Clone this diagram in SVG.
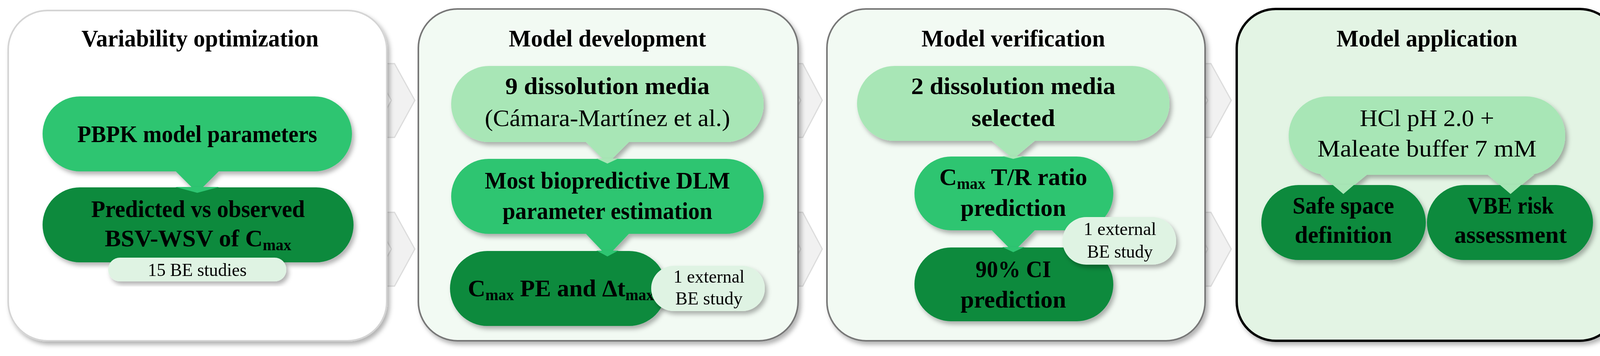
<svg xmlns="http://www.w3.org/2000/svg" width="4171" height="912" viewBox="0 0 4171 912">
<defs>
<filter id="sh" x="-10%" y="-10%" width="125%" height="130%"><feDropShadow dx="6" dy="8" stdDeviation="6" flood-color="#000" flood-opacity="0.3"/></filter>
</defs>
<style>
text{font-family:"Liberation Serif","Times New Roman",serif;font-weight:bold;text-anchor:middle;fill:#000}
.t{font-size:62px}
.b{font-size:62px}
.r{font-weight:normal}
.s{font-size:46px;font-weight:normal}
.light{fill:#a8e6b6}
.mid{fill:#2ec571}
.dark{fill:#078a3c}
.note{fill:#dff3e3}
.chev{fill:#f1f1f1;stroke:#dcdcdc;stroke-width:3}
</style>
<g id="connectors">
<polygon class="chev" points="950,163 1010,163 1062,257 1010,352 950,352 1002,257"/>
<polygon class="chev" points="950,544 1010,544 1062,638 1010,733 950,733 1002,638"/>
<polygon class="chev" points="2000,163 2055,163 2105,257 2055,352 2000,352 2050,257"/>
<polygon class="chev" points="2000,544 2055,544 2105,638 2055,733 2000,733 2050,638"/>
<polygon class="chev" points="3040,163 3100,163 3152,257 3100,352 3040,352 3092,257"/>
<polygon class="chev" points="3040,544 3100,544 3152,638 3100,733 3040,733 3092,638"/>
</g>
<g id="panel1">
<rect x="21" y="27" width="969" height="846" rx="100" fill="#fff" stroke="#d4d4d4" stroke-width="4" filter="url(#sh)"/>
<text class="t" x="512" y="119" textLength="607" lengthAdjust="spacingAndGlyphs">Variability optimization</text>
</g>
<g id="n-pbpk" filter="url(#sh)">
<rect class="mid" x="109" y="247" width="792" height="192" rx="96"/>
<polygon class="mid" points="449,438 561,438 505,494"/>
<text class="b" x="505" y="364" textLength="614" lengthAdjust="spacingAndGlyphs">PBPK model parameters</text>
</g>
<g id="n-predicted" filter="url(#sh)">
<rect class="dark" x="109" y="480" width="796" height="192" rx="96"/>
<polygon class="mid" points="449,479 561,479 505,494"/>
<text class="b" x="507" y="556" textLength="547" lengthAdjust="spacingAndGlyphs">Predicted vs observed</text>
<text class="b" x="507" y="631">BSV-WSV of C<tspan font-size="40" dy="10">max</tspan></text>
</g>
<g id="n-15be" filter="url(#sh)">
<rect class="note" x="277" y="660" width="456" height="61" rx="30"/>
<text class="s" x="505" y="707" textLength="253" lengthAdjust="spacingAndGlyphs">15 BE studies</text>
</g>

<g id="panel2">
<rect x="1071" y="23" width="972" height="850" rx="100" fill="#f2faf3" stroke="#777" stroke-width="4" filter="url(#sh)"/>
<text class="t" x="1555" y="119" textLength="505" lengthAdjust="spacingAndGlyphs">Model development</text>
</g>
<g id="n-9media" filter="url(#sh)">
<rect class="light" x="1155" y="169" width="800" height="195" rx="97"/>
<polygon class="light" points="1499,363 1611,363 1555,419"/>
<text class="b" x="1555" y="241" textLength="523" lengthAdjust="spacingAndGlyphs">9 dissolution media</text>
<text class="b r" x="1555" y="323" textLength="628" lengthAdjust="spacingAndGlyphs">(Cámara-Martínez et al.)</text>
</g>
<g id="n-biopred" filter="url(#sh)">
<rect class="mid" x="1155" y="407" width="800" height="192" rx="96"/>
<polygon class="light" points="1527,406 1583,406 1555,419"/>
<polygon class="mid" points="1499,598 1611,598 1555,657"/>
<text class="b" x="1555" y="483" textLength="628" lengthAdjust="spacingAndGlyphs">Most biopredictive DLM</text>
<text class="b" x="1555" y="561" textLength="537" lengthAdjust="spacingAndGlyphs">parameter estimation</text>
</g>
<g id="n-cmaxpe" filter="url(#sh)">
<rect class="dark" x="1152" y="643" width="554" height="192" rx="96"/>
<polygon class="mid" points="1527,642 1583,642 1555,657"/>
<text class="b" x="1436" y="759">C<tspan font-size="40" dy="10">max</tspan><tspan dy="-10"> PE and Δt</tspan><tspan font-size="40" dy="10">max</tspan></text>
</g>
<g id="n-ext1" filter="url(#sh)">
<rect class="note" x="1667" y="681" width="291" height="116" rx="58"/>
<text class="s" x="1815" y="724" textLength="182" lengthAdjust="spacingAndGlyphs">1 external</text>
<text class="s" x="1815" y="780" textLength="172" lengthAdjust="spacingAndGlyphs">BE study</text>
</g>

<g id="panel3">
<rect x="2117" y="23" width="968" height="850" rx="100" fill="#f2faf3" stroke="#777" stroke-width="4" filter="url(#sh)"/>
<text class="t" x="2594" y="119" textLength="470" lengthAdjust="spacingAndGlyphs">Model verification</text>
</g>
<g id="n-2media" filter="url(#sh)">
<rect class="light" x="2194" y="169" width="800" height="192" rx="96"/>
<polygon class="light" points="2538,360 2650,360 2594,407"/>
<text class="b" x="2594" y="241" textLength="523" lengthAdjust="spacingAndGlyphs">2 dissolution media</text>
<text class="b" x="2594" y="323" textLength="214" lengthAdjust="spacingAndGlyphs">selected</text>
</g>
<g id="n-tr" filter="url(#sh)">
<rect class="mid" x="2341" y="401" width="509" height="189" rx="94"/>
<polygon class="light" points="2566,400 2622,400 2594,407"/>
<polygon class="mid" points="2538,589 2650,589 2594,646"/>
<text class="b" x="2594" y="474">C<tspan font-size="40" dy="10">max</tspan><tspan dy="-10"> T/R ratio</tspan></text>
<text class="b" x="2594" y="553" textLength="270" lengthAdjust="spacingAndGlyphs">prediction</text>
</g>
<g id="n-ci" filter="url(#sh)">
<rect class="dark" x="2341" y="634" width="509" height="189" rx="94"/>
<polygon class="mid" points="2566,633 2622,633 2594,646"/>
<text class="b" x="2594" y="710" textLength="193" lengthAdjust="spacingAndGlyphs">90% CI</text>
<text class="b" x="2594" y="788" textLength="270" lengthAdjust="spacingAndGlyphs">prediction</text>
</g>
<g id="n-ext2" filter="url(#sh)">
<rect class="note" x="2720" y="556" width="291" height="122" rx="61"/>
<text class="s" x="2867" y="602" textLength="186" lengthAdjust="spacingAndGlyphs">1 external</text>
<text class="s" x="2867" y="660" textLength="168" lengthAdjust="spacingAndGlyphs">BE study</text>
</g>

<g id="panel4">
<rect x="3166" y="23" width="978" height="850" rx="100" fill="#e3f4e4" stroke="#000" stroke-width="6" filter="url(#sh)"/>
<text class="t" x="3653" y="119" textLength="463" lengthAdjust="spacingAndGlyphs">Model application</text>
</g>
<g id="n-hcl" filter="url(#sh)">
<rect class="light" x="3299" y="247" width="708" height="201" rx="100"/>
<polygon class="light" points="3380,447 3500,447 3439,497"/>
<polygon class="light" points="3808,447 3928,447 3867,497"/>
<text class="b r" x="3653" y="323" textLength="344" lengthAdjust="spacingAndGlyphs">HCl pH 2.0 +</text>
<text class="b r" x="3653" y="401" textLength="561" lengthAdjust="spacingAndGlyphs">Maleate buffer 7 mM</text>
</g>
<g id="n-safe" filter="url(#sh)">
<rect class="dark" x="3229" y="474" width="421" height="192" rx="96"/>
<polygon class="light" points="3411,473 3467,473 3439,497"/>
<text class="b" x="3439" y="547" textLength="260" lengthAdjust="spacingAndGlyphs">Safe space</text>
<text class="b" x="3439" y="622" textLength="249" lengthAdjust="spacingAndGlyphs">definition</text>
</g>
<g id="n-vbe" filter="url(#sh)">
<rect class="dark" x="3653" y="474" width="425" height="192" rx="96"/>
<polygon class="light" points="3839,473 3895,473 3867,497"/>
<text class="b" x="3867" y="547" textLength="221" lengthAdjust="spacingAndGlyphs">VBE risk</text>
<text class="b" x="3867" y="622" textLength="288" lengthAdjust="spacingAndGlyphs">assessment</text>
</g>
</svg>
